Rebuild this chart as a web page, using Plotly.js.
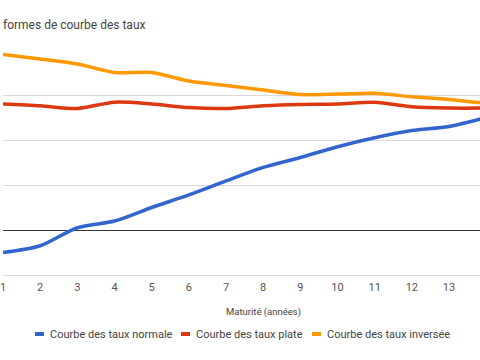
<!DOCTYPE html>
<html>
<head>
<meta charset="utf-8">
<script src="https://cdn.plot.ly/plotly-3.0.1.min.js"></script>
<style>
html,body{margin:0;padding:0;background:#fff;}
#chart{width:480px;height:360px;}
</style>
</head>
<body>
<div id="chart"></div>
<script>
// Data
const maturities = [1, 2, 3, 4, 5, 6, 7, 8, 9, 10, 11, 12, 13, 14];
const normalCurve = [-0.50, -0.35, 0.05, 0.20, 0.50, 0.78, 1.09, 1.39, 1.61, 1.85, 2.05, 2.21, 2.30, 2.50];
const flatCurve = [2.80, 2.76, 2.70, 2.84, 2.80, 2.72, 2.70, 2.76, 2.79, 2.80, 2.84, 2.74, 2.71, 2.71];
const invertedCurve = [3.90, 3.80, 3.69, 3.50, 3.50, 3.31, 3.21, 3.11, 3.01, 3.02, 3.04, 2.96, 2.90, 2.81];
const seriesNames = ["Courbe des taux normale", "Courbe des taux plate", "Courbe des taux inversée"];
const seriesColors = ["#3366cc", "#dc3912", "#ff9900"];
const xTickVals = [1, 2, 3, 4, 5, 6, 7, 8, 9, 10, 11, 12, 13];
const chartTitle = "formes de courbe des taux";
const xTitle = "Maturité (années)";

const W = 480, H = 360;
const M = {l: 3, r: 0, t: 50, b: 85};
const plotW = W - M.l - M.r, plotH = H - M.t - M.b;
const px = x => (x - M.l) / plotW;
const py = y => (H - M.b - y) / plotH;

const allY = [normalCurve, flatCurve, invertedCurve];
const traces = allY.map((ys, i) => ({
  x: maturities, y: ys, type: "scatter", mode: "lines",
  name: seriesNames[i],
  line: {color: seriesColors[i], width: 3.5, shape: "spline", smoothing: 0.8},
  showlegend: false, hoverinfo: "skip", cliponaxis: true
}));

// custom legend like the reference
const legendKeys = [[35, 44, 50], [181, 190, 196], [312, 321, 327]];
const shapes = legendKeys.map((k, i) => ({
  type: "line", xref: "paper", yref: "paper",
  x0: px(k[0]), x1: px(k[1]), y0: py(334), y1: py(334),
  line: {color: seriesColors[i], width: 4}
}));
const annotations = legendKeys.map((k, i) => ({
  xref: "paper", yref: "paper", x: px(k[2] - 2), y: py(334),
  xanchor: "left", yanchor: "middle", showarrow: false,
  text: seriesNames[i], font: {family: "Roboto", size: 11, color: "#444"}
}));
annotations.push({
  xref: "paper", yref: "paper", x: px(263), y: py(312),
  xanchor: "center", yanchor: "middle", showarrow: false,
  text: xTitle, font: {family: "Roboto", size: 9.5, color: "#444"}
});

const layout = {
  width: W, height: H,
  margin: M,
  paper_bgcolor: "#fff", plot_bgcolor: "#fff",
  font: {family: "Roboto", color: "#444"},
  title: {text: chartTitle, xref: "container", yref: "container",
          x: 3 / W, xanchor: "left", y: 1 - 25 / H, yanchor: "middle",
          font: {family: "Roboto", size: 12, color: "#444"}},
  xaxis: {range: [1, 1 + plotW / 37.17], tickvals: xTickVals, showgrid: false,
          zeroline: false, showline: true, linecolor: "#d9d9d9", linewidth: 1,
          ticks: "", ticklabeloverflow: "allow", ticklabelstandoff: 2,
          tickfont: {family: "Roboto", size: 11, color: "#555"}},
  yaxis: {range: [-1, 4], dtick: 1, tick0: 0, showticklabels: false,
          gridcolor: "#d9d9d9", gridwidth: 1, zeroline: true,
          zerolinecolor: "#333", zerolinewidth: 1, showline: false, ticks: ""},
  shapes: shapes, annotations: annotations, showlegend: false
};

Plotly.newPlot("chart", traces, layout, {staticPlot: true, displayModeBar: false});
</script>
</body>
</html>
